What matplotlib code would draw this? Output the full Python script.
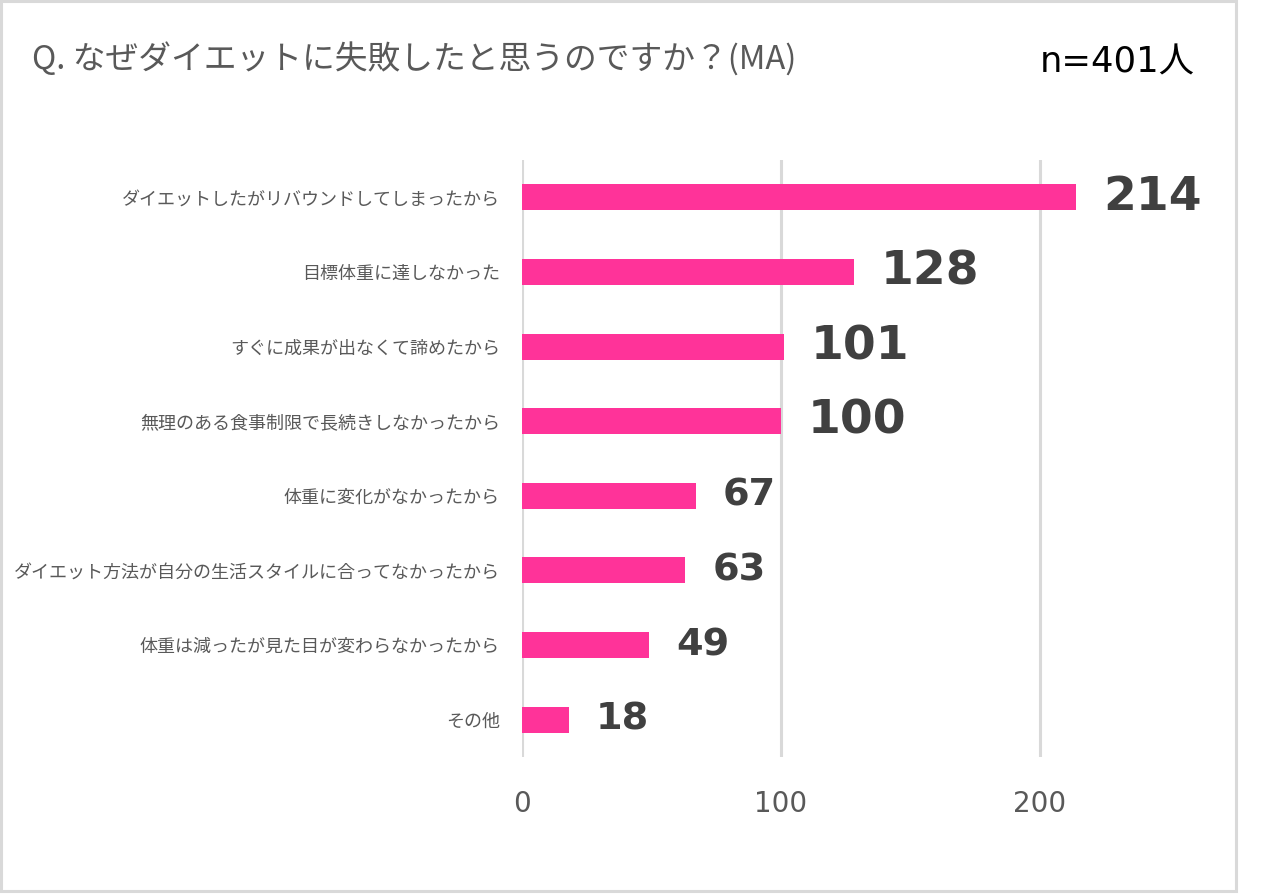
import matplotlib
matplotlib.use("Agg")
import matplotlib.pyplot as plt
from matplotlib.patches import Rectangle

plt.rcParams['font.family'] = ['Noto Sans CJK JP', 'DejaVu Sans']

# Survey answers (multiple answers allowed), top to bottom
categories = [
    "ダイエットしたがリバウンドしてしまったから",
    "目標体重に達しなかった",
    "すぐに成果が出なくて諦めたから",
    "無理のある食事制限で長続きしなかったから",
    "体重に変化がなかったから",
    "ダイエット方法が自分の生活スタイルに合ってなかったから",
    "体重は減ったが見た目が変わらなかったから",
    "その他",
]
counts = [214, 128, 101, 100, 67, 63, 49, 18]
x_ticks = [0, 100, 200]
title = "Q. なぜダイエットに失敗したと思うのですか？(MA)"
sample_note = "n=401人"

BAR = "#FF3399"
GRID = "#D9D9D9"
TXT = "#595959"
VAL = "#404040"

fig = plt.figure(figsize=(12.69, 8.94), dpi=100)
fig.patch.set_facecolor("white")

# Outer frame
fig.add_artist(Rectangle((1 / 1269, 1 - 891 / 894), 1235 / 1269, 890 / 894,
                         transform=fig.transFigure, fill=False,
                         edgecolor=GRID, linewidth=2.2))

ax = fig.add_axes([522 / 1269, 1 - 757 / 894, (260 * 2.59) / 1269, (757 - 160) / 894])

ypos = list(range(len(categories)))
ax.barh(ypos, counts, height=0.35, color=BAR, zorder=3)
ax.set_ylim(len(categories) - 0.5, -0.5)
ax.set_xlim(0, 260)

ax.set_yticks(ypos)
ax.set_yticklabels(categories, fontsize=13, color=TXT)
ax.set_xticks(x_ticks)
ax.set_xticklabels([str(t) for t in x_ticks], fontsize=20, color=TXT)
for lbl in ax.get_xticklabels():
    lbl.set_fontfamily('DejaVu Sans')
ax.tick_params(axis='y', length=0, pad=16)
ax.tick_params(axis='x', length=0, pad=24)

for s in ax.spines.values():
    s.set_visible(False)
ax.grid(axis='x', color=GRID, linewidth=2.2, zorder=0)
ax.set_axisbelow(True)

for y, v in zip(ypos, counts):
    size = 34 if v >= 100 else 27.5
    ax.annotate(str(v), xy=(v, y), xytext=(19.5, 0), textcoords='offset points',
                ha='left', va='center', fontsize=size, fontweight='bold',
                color=VAL, fontfamily='DejaVu Sans')

fig.text(32 / 1269, 1 - 60 / 894, title, fontsize=23.6, color=TXT,
         ha='left', va='center')
fig.text(1195 / 1269, 1 - 62 / 894, sample_note, fontsize=25.5, color='black',
         ha='right', va='center', family=['DejaVu Sans', 'Noto Sans CJK JP'])

fig.savefig("out.png", dpi=100, facecolor="white")
